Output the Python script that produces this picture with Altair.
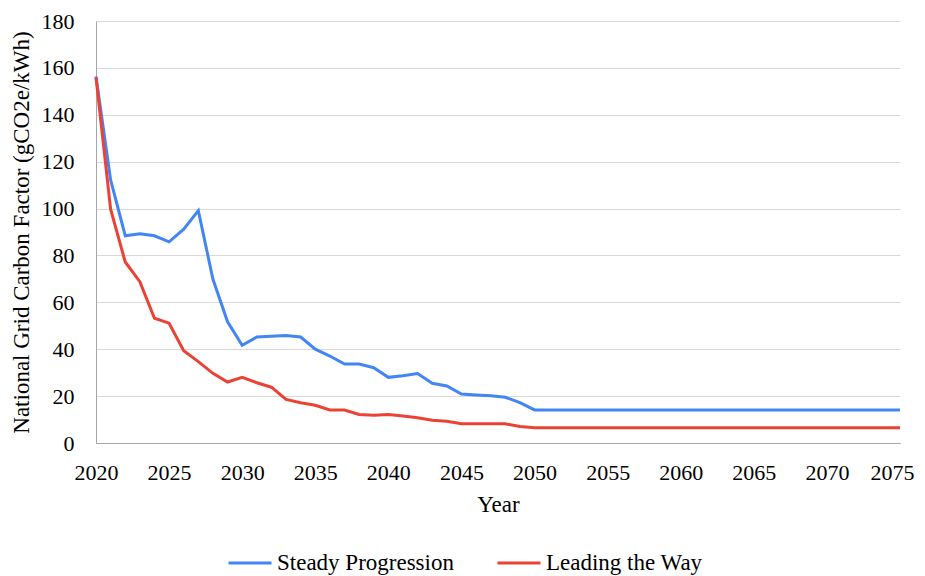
import altair as alt
import pandas as pd

years = list(range(2020, 2076))

steady_2020_2050 = [156.3, 112.2, 88.4, 89.3, 88.4, 85.8, 91.2, 99.1, 69.8, 51.7,
                    41.7, 45.2, 45.5, 45.9, 45.2, 40.0, 37.1, 33.7, 33.7, 32.1,
                    28.0, 28.7, 29.6, 25.5, 24.3, 20.9, 20.5, 20.2, 19.5, 17.2,
                    14.1]
leading_2020_2050 = [156.0, 99.7, 77.2, 68.8, 53.2, 51.1, 39.4, 34.7, 29.7, 26.0,
                     28.0, 25.7, 23.8, 18.6, 17.2, 16.1, 14.1, 14.1, 12.2, 11.8,
                     12.2, 11.5, 10.8, 9.7, 9.3, 8.2, 8.2, 8.2, 8.2, 7.0,
                     6.5]
steady_after = [14.1] * 25
leading_after = [6.5] * 25

steady = steady_2020_2050 + steady_after
leading = leading_2020_2050 + leading_after

series_names = ["Steady Progression", "Leading the Way"]
series_colors = ["#4285f4", "#ea4335"]
x_ticks = list(range(2020, 2076, 5))
y_ticks = list(range(0, 181, 20))

df = pd.DataFrame({
    "Year": years * 2,
    "Value": steady + leading,
    "Series": [series_names[0]] * len(years) + [series_names[1]] * len(years),
})

FONT = "Liberation Serif"

chart = alt.Chart(df).mark_line(strokeWidth=3).encode(
    x=alt.X("Year:Q",
            scale=alt.Scale(domain=[2020, 2075], nice=False, zero=False),
            axis=alt.Axis(values=x_ticks, format="d", title="Year", grid=False,
                          ticks=False, labelPadding=19, titlePadding=10,
                          labelFont=FONT, titleFont=FONT,
                          labelOffset={"condition": {"test": "datum.value == 2075", "value": -8},
                                       "value": 0},
                          domainColor="#a6a6a6", labelFlush=False)),
    y=alt.Y("Value:Q",
            scale=alt.Scale(domain=[0, 180], nice=False),
            axis=alt.Axis(values=y_ticks, title="National Grid Carbon Factor (gCO2e/kWh)",
                          grid=True, gridColor="#d9d9d9", ticks=False,
                          labelPadding=22, titlePadding=8,
                          labelFont=FONT, titleFont=FONT,
                          domainColor="#a6a6a6")),
    color=alt.Color("Series:N",
                    scale=alt.Scale(domain=series_names, range=series_colors),
                    legend=alt.Legend(title=None, orient="none", direction="horizontal",
                                      legendX=131, legendY=519,
                                      symbolType="stroke", symbolSize=1849,
                                      symbolStrokeWidth=3, labelOffset=4,
                                      columnPadding=37, labelFont=FONT)),
    order=alt.Order("Year:Q"),
).properties(
    width=804, height=422,
    autosize=alt.AutoSizeParams(type="none"),
    padding={"left": 88, "top": 13, "right": 17, "bottom": 133},
).configure(
    font=FONT,
).configure_axis(
    labelFont=FONT, titleFont=FONT, labelFontSize=22, titleFontSize=23,
    labelColor="#000000", titleColor="#000000", titleFontWeight="normal",
).configure_legend(
    labelFont=FONT, labelFontSize=23, labelColor="#000000", labelLimit=400,
).configure_view(stroke=None)

chart.save("out.html", embed_options={"renderer": "svg", "actions": False})
